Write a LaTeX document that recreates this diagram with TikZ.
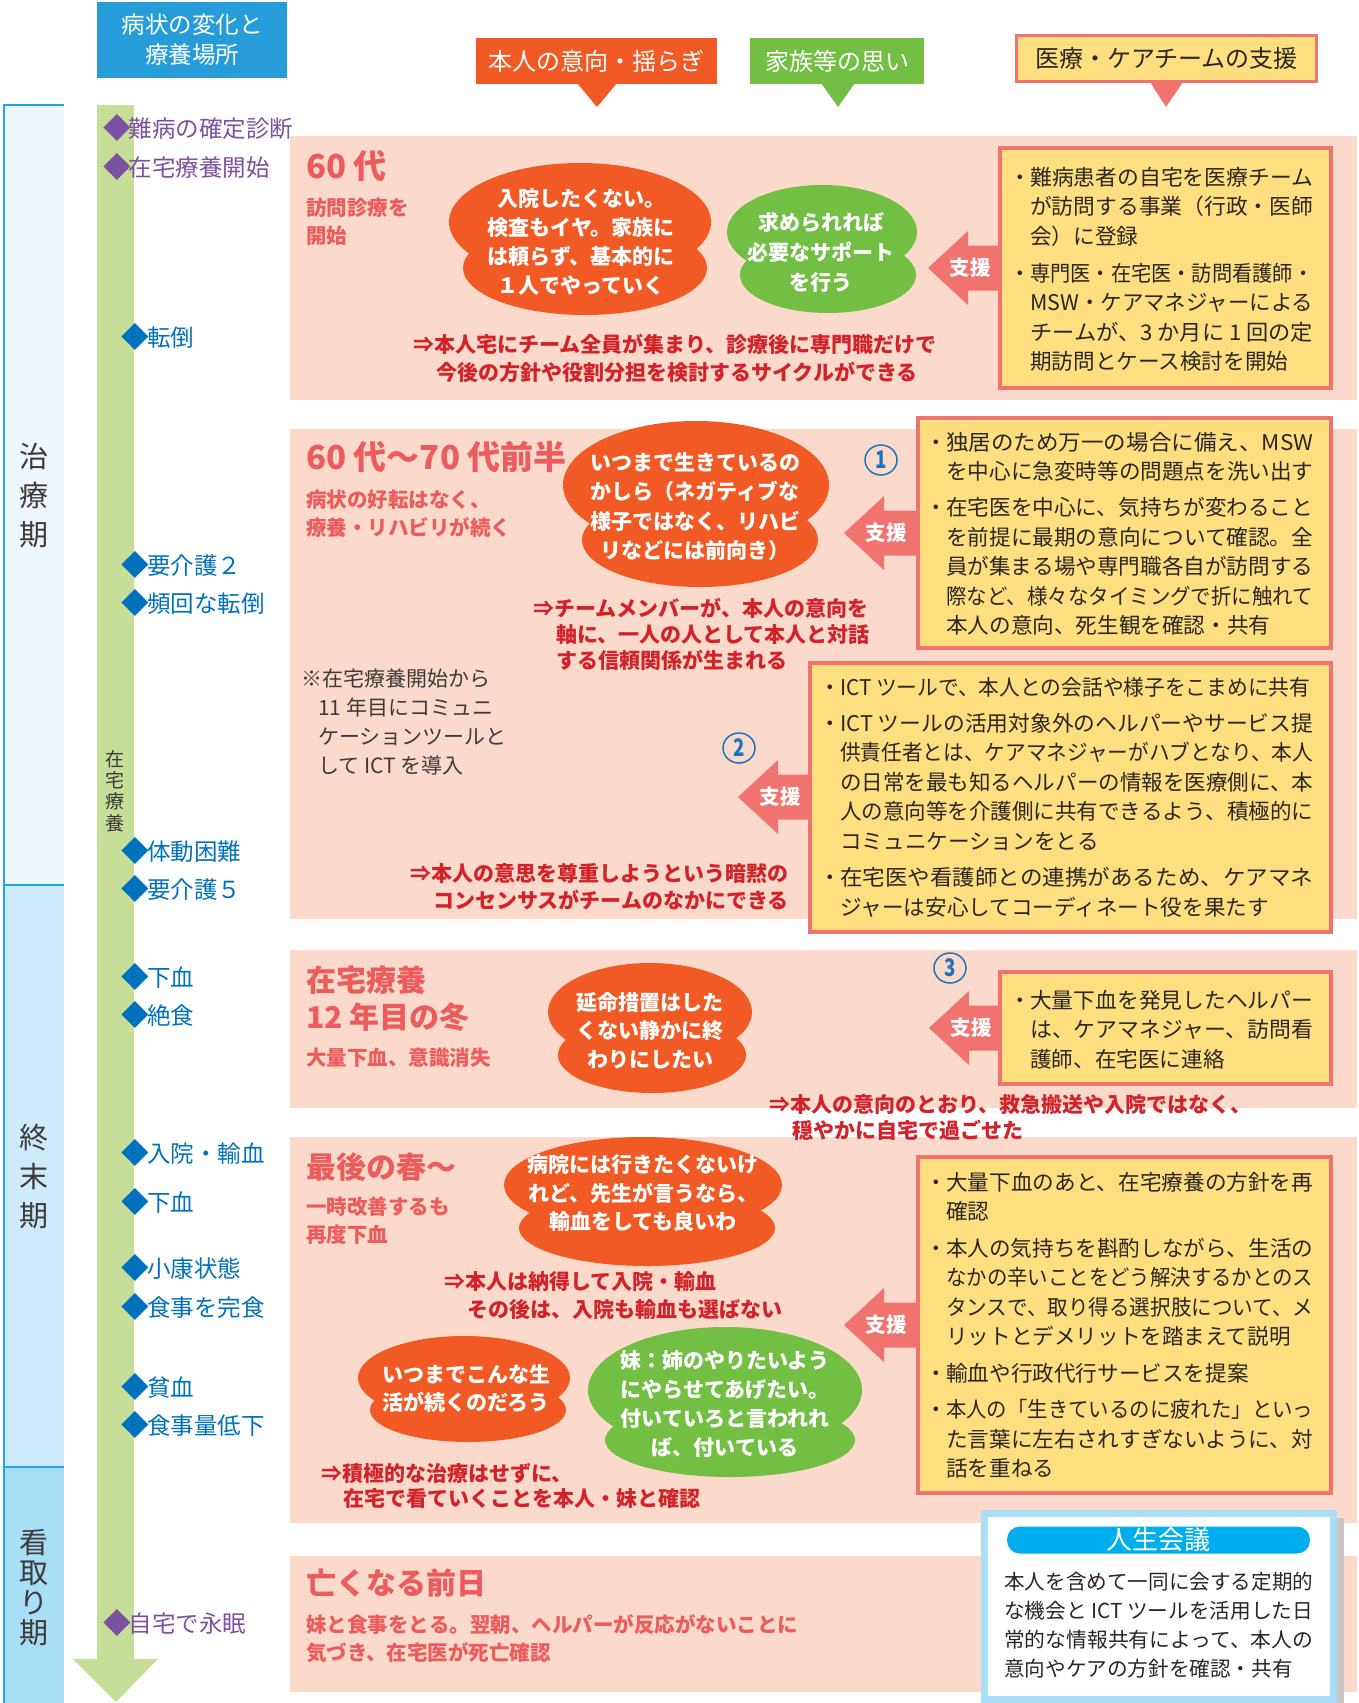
\documentclass[tikz,border=0pt]{standalone}
\usepackage{fontspec}
\usepackage{graphicx}
\setmainfont{Noto Sans CJK JP}
\definecolor{ink}{HTML}{2B2523}
\definecolor{grayink}{HTML}{3E3A39}
\definecolor{panel}{HTML}{FBDACB}
\definecolor{ybfill}{HTML}{FEDF80}
\definecolor{ybline}{HTML}{F07370}
\definecolor{obub}{HTML}{F15A24}
\definecolor{gbub}{HTML}{72BF44}
\definecolor{salmon}{HTML}{EC5C5C}
\definecolor{notered}{HTML}{D2232A}
\definecolor{hblue}{HTML}{269DD8}
\definecolor{msblue}{HTML}{0071BC}
\definecolor{mspurple}{HTML}{7B52A1}
\definecolor{gbar}{HTML}{C6DE98}
\definecolor{phA}{HTML}{EEF7FD}
\definecolor{phB}{HTML}{CDEBFA}
\definecolor{phC}{HTML}{A8DEF6}
\definecolor{phline}{HTML}{22A6E0}
\definecolor{lifeborder}{HTML}{AADEF6}
\definecolor{pill}{HTML}{00AEEF}
\definecolor{numblue}{HTML}{1C75BC}
\newcommand\J[2]{\resizebox{#1pt}{\height}{#2}}
\newcommand\bul{\makebox[13pt][l]{\makebox[6pt][c]{・}}}
\newcommand\ind{\hspace*{13pt}}
\newcommand\dm{\makebox[1em][c]{\raisebox{-0.06em}{\scalebox{1.18}{◆}}}}
\newcommand\blob[9]{%
  \fill[#1] (#2,#3) ellipse [x radius=#4pt, y radius=#5pt];
  \fill[#1] (#6,#7) ellipse [x radius=#8pt, y radius=#9pt];}
\newcommand\shien[4]{%
  \fill[ybline] (#2,#3) -- (#2+40,#3-37) -- (#2+40,#3-22.5) -- (#4,#3-22.5)
     -- (#4,#3+22.5) -- (#2+40,#3+22.5) -- (#2+40,#3+37) -- cycle;
  \node[shientext] (#1) at (#2+42,#3) {支援};}
\newcommand\cnum[4]{%
  \draw[numblue, line width=1.5pt] (#2,#3) ellipse [x radius=16pt, y radius=15pt];
  \node[numtext] (#1) at (#2,#3) {\scalebox{0.85}[1.1]{#4}};}
\begin{document}
\begin{tikzpicture}[x=1pt,y=-1pt,
  tx/.style={inner sep=0pt, anchor=west, align=left},
  body/.style={tx, text=ink, font=\fontsize{21.6}{29.5}\selectfont},
  rednote/.style={tx, text=notered, font=\bfseries\fontsize{21}{27}\selectfont},
  heading/.style={tx, text=salmon, font=\bfseries\fontsize{33}{37}\selectfont},
  subhead/.style={tx, text=salmon, font=\bfseries\fontsize{20.5}{28}\selectfont},
  bubtext/.style={inner sep=0pt, align=center, text=white, font=\bfseries\fontsize{21}{29.3}\selectfont},
  ms/.style={tx, font=\fontsize{23.5}{28}\selectfont},
  msb/.style={ms, text=msblue},
  msp/.style={ms, text=mspurple},
  phtext/.style={inner sep=0pt, align=center, text=grayink, font=\fontsize{29}{39}\selectfont},
  hdr/.style={inner sep=0pt, align=center, text=white, font=\fontsize{24}{30}\selectfont},
  ybox/.style={fill=ybfill, draw=ybline, line width=3.5pt},
  shientext/.style={inner sep=0pt, text=white, font=\bfseries\fontsize{20.5}{24}\selectfont},
  numtext/.style={inner sep=0pt, text=numblue, font=\bfseries\fontsize{22}{24}\selectfont},
  note/.style={tx, text=grayink, font=\fontsize{21}{29}\selectfont}
]
\useasboundingbox (0,0) rectangle (1359,1703);

% phase column
\fill[phA] (4,105) rectangle (64,885);
\fill[phB] (4,885) rectangle (64,1467);
\fill[phC] (4,1467) rectangle (64,1703);
\draw[phline, line width=2pt] (4,1703) -- (4,105) -- (64,105);
\draw[phline, line width=2pt] (4,885) -- (64,885);
\draw[phline, line width=2pt] (4,1467) -- (64,1467);
\node[phtext] (phase1) at (34,496) {治\\療\\期};
\node[phtext] (phase2) at (34,1177) {終\\末\\期};
\node[phtext, font=\fontsize{29}{30}\selectfont] (phase3) at (34,1588) {看\\取\\り\\期};

% green timeline bar
\fill[gbar] (97,105) rectangle (134,1659);
\fill[gbar] (73,1659) -- (158,1659) -- (116,1702) -- cycle;
\node[inner sep=0pt, align=center, text=grayink, font=\fontsize{19}{21.3}\selectfont] (zaitaku) at (115,791) {在\\宅\\療\\養};

% headers
\node[hdr, fill=hblue, minimum width=190pt, minimum height=76pt, font=\fontsize{23.5}{30}\selectfont] (hd0) at (192,40) {病状の変化と\\療養場所};
\node[hdr, fill=obub, minimum width=241pt, minimum height=46pt] (hd1) at (596.5,61) {本人の意向・揺らぎ};
\fill[obub] (577,83) -- (617,83) -- (597,107) -- cycle;
\node[hdr, fill=gbub, minimum width=174pt, minimum height=46pt] (hd2) at (837,61) {家族等の思い};
\fill[gbub] (821,83) -- (855,83) -- (838,107) -- cycle;
\fill[ybline] (1150,82) -- (1183,82) -- (1166,107) -- cycle;
\node[hdr, fill=ybfill, draw=ybline, line width=3.5pt, text=ink, minimum width=300pt, minimum height=46pt] (hd3) at (1166.5,58.5) {医療・ケアチームの支援};

% panels
\fill[panel] (290,136) rectangle (1357,400);
\fill[panel] (290,429) rectangle (1357,919);
\fill[panel] (290,950) rectangle (1357,1108);
\fill[panel] (290,1137) rectangle (1357,1523);
\fill[panel] (290,1556) rectangle (1357,1692);

% milestones
\node[msp] (m1) at (105,128) {\dm 難病の確定診断};
\node[msp] (m2) at (105,167) {\dm 在宅療養開始};
\node[msb] (m3) at (123.5,337) {\dm 転倒};
\node[msb] (m4) at (123.5,565) {\dm 要介護２};
\node[msb] (m5) at (123.5,603) {\dm 頻回な転倒};
\node[msb] (m6) at (123.5,851) {\dm 体動困難};
\node[msb] (m7) at (123.5,889) {\dm 要介護５};
\node[msb] (m8) at (123.5,977) {\dm 下血};
\node[msb] (m9) at (123.5,1015) {\dm 絶食};
\node[msb] (m10) at (123.5,1153) {\dm 入院・輸血};
\node[msb] (m11) at (123.5,1202) {\dm 下血};
\node[msb] (m12) at (123.5,1268) {\dm 小康状態};
\node[msb] (m13) at (123.5,1307) {\dm 食事を完食};
\node[msb] (m14) at (123.5,1387) {\dm 貧血};
\node[msb] (m15) at (123.5,1425) {\dm 食事量低下};
\node[msp] (m16) at (105,1623) {\dm 自宅で永眠};

% ---------- panel 1
\node[heading] (p1h) at (306,166) {60 代};
\node[subhead] (p1s) at (306,221.5) {訪問診療を\\開始};
\blob{obub}{580}{222}{131}{59}{585}{268}{122}{47}
\node[bubtext] (b1) at (581,242) {入院したくない。\\検査もイヤ。家族に\\は頼らず、基本的に\\１人でやっていく};
\blob{gbub}{822}{232}{95}{47}{828}{275}{88}{38}
\node[bubtext, font=\bfseries\fontsize{21}{30}\selectfont] (g1) at (821,252) {求められれば\\必要なサポート\\を行う};
\draw[ybox] (1000,148) rectangle (1331,388);
\shien{s1}{928}{268}{1000}
\node[body] (t1) at (1017,269.25) {\bul\J{283}{難病患者の自宅を医療チーム}\\\ind\J{283}{が訪問する事業（行政・医師}\\\ind 会）に登録\\[7.5pt]\bul\J{283}{専門医・在宅医・訪問看護師・}\\\ind\J{283}{MSW・ケアマネジャーによる}\\\ind\J{283}{チームが、3 か月に 1 回の定}\\\ind 期訪問とケース検討を開始};
\node[rednote, font=\bfseries\fontsize{21}{28}\selectfont] (r1) at (413,358) {⇒本人宅にチーム全員が集まり、診療後に専門職だけで\\\hspace*{23pt}今後の方針や役割分担を検討するサイクルができる};

% ---------- panel 2
\node[heading] (p2h) at (306,457) {60 代〜70 代前半};
\node[subhead] (p2s) at (306,514) {病状の好転はなく、\\療養・リハビリが続く};
\blob{obub}{696}{485}{133}{64}{700}{540}{118}{47}
\node[bubtext] (b2) at (695,506.5) {いつまで生きているの\\かしら（ネガティブな\\様子ではなく、リハビ\\リなどには前向き）};
\cnum{n1}{881}{460}{1}
\draw[ybox] (918,418) rectangle (1331,648);
\shien{s2}{844}{533}{918}
\node[body] (t2) at (933,533.75) {\bul\J{367}{独居のため万一の場合に備え、MSW}\\\ind を中心に急変時等の問題点を洗い出す\\[6.5pt]\bul\J{367}{在宅医を中心に、気持ちが変わること}\\\ind\J{367}{を前提に最期の意向について確認。全}\\\ind\J{367}{員が集まる場や専門職各自が訪問する}\\\ind\J{367}{際など、様々なタイミングで折に触れて}\\\ind 本人の意向、死生観を確認・共有};
\node[rednote, font=\bfseries\fontsize{21}{26}\selectfont] (r2) at (533,634) {⇒チームメンバーが、本人の意向を\\\hspace*{23pt}軸に、一人の人として本人と対話\\\hspace*{23pt}する信頼関係が生まれる};
\node[note] (ict) at (301,721.5) {※在宅療養開始から\\\hspace*{17pt}11 年目にコミュニ\\\hspace*{17pt}ケーションツールと\\\hspace*{17pt}して ICT を導入};
\cnum{n2}{739}{748}{2}
\draw[ybox] (810,663) rectangle (1331,932);
\shien{s3}{738}{797}{810}
\node[body] (t3) at (827,797) {\bul\J{470}{ICT ツールで、本人との会話や様子をこまめに共有}\\[6.5pt]\bul\J{473}{ICT ツールの活用対象外のヘルパーやサービス提}\\\ind\J{473}{供責任者とは、ケアマネジャーがハブとなり、本人}\\\ind\J{473}{の日常を最も知るヘルパーの情報を医療側に、本}\\\ind\J{473}{人の意向等を介護側に共有できるよう、積極的に}\\\ind コミュニケーションをとる\\[7pt]\bul\J{473}{在宅医や看護師との連携があるため、ケアマネ}\\\ind ジャーは安心してコーディネート役を果たす};
\node[rednote] (r3) at (410,886.5) {⇒本人の意思を尊重しようという暗黙の\\\hspace*{23pt}コンセンサスがチームのなかにできる};

% ---------- panel 3
\node[heading, font=\bfseries\fontsize{30}{37}\selectfont] (p3h) at (306,998.5) {在宅療養\\12 年目の冬};
\node[subhead] (p3s) at (306,1058) {大量下血、意識消失};
\blob{obub}{650}{1012}{102}{49}{652}{1055}{94}{38}
\node[bubtext, font=\bfseries\fontsize{21}{28.5}\selectfont] (b3) at (650,1030.5) {延命措置はした\\くない静かに終\\わりにしたい};
\cnum{n3}{950}{968}{3}
\draw[ybox] (1000,972) rectangle (1331,1084);
\shien{s4}{929}{1028}{1000}
\node[body] (t4) at (1017,1029.5) {\bul\J{283}{大量下血を発見したヘルパー}\\\ind\J{283}{は、ケアマネジャー、訪問看}\\\ind 護師、在宅医に連絡};
\node[rednote, font=\bfseries\fontsize{21}{26}\selectfont] (r4) at (769,1117) {⇒本人の意向のとおり、救急搬送や入院ではなく、\\\hspace*{23pt}穏やかに自宅で過ごせた};

% ---------- panel 4
\node[heading, font=\bfseries\fontsize{30}{37}\selectfont] (p4h) at (306,1167) {最後の春〜};
\node[subhead] (p4s) at (306,1221) {一時改善するも\\再度下血};
\blob{obub}{643}{1185}{139}{48}{647}{1228}{128}{38}
\node[bubtext, font=\bfseries\fontsize{21}{28.5}\selectfont] (b4) at (643,1193.5) {病院には行きたくないけ\\れど、先生が言うなら、\\輸血をしても良いわ};
\node[rednote, font=\bfseries\fontsize{21}{28}\selectfont] (r5) at (444,1296) {⇒本人は納得して入院・輸血\\\hspace*{23pt}その後は、入院も輸血も選ばない};
\blob{obub}{464}{1378}{106}{42}{468}{1410}{98}{32}
\node[bubtext, font=\bfseries\fontsize{21}{28}\selectfont] (b5) at (466,1389) {いつまでこんな生\\活が続くのだろう};
\blob{gbub}{725}{1390}{137}{63}{730}{1440}{125}{37}
\node[bubtext] (g2) at (725,1404) {妹：姉のやりたいよう\\にやらせてあげたい。\\付いていろと言われれ\\ば、付いている};
\node[rednote, font=\bfseries\fontsize{21}{25}\selectfont] (r6) at (321,1485.5) {⇒積極的な治療はせずに、\\\hspace*{22pt}在宅で看ていくことを本人・妹と確認};
\draw[ybox] (918,1157) rectangle (1331,1493);
\shien{s5}{844}{1325}{918}
\node[body] (t5) at (933,1325.25) {\bul\J{367}{大量下血のあと、在宅療養の方針を再}\\\ind 確認\\[7pt]\bul\J{367}{本人の気持ちを斟酌しながら、生活の}\\\ind\J{367}{なかの辛いことをどう解決するかとのス}\\\ind\J{367}{タンスで、取り得る選択肢について、メ}\\\ind リットとデメリットを踏まえて説明\\[7pt]\bul 輸血や行政代行サービスを提案\\[7pt]\bul\J{367}{本人の「生きているのに疲れた」といっ}\\\ind\J{367}{た言葉に左右されすぎないように、対}\\\ind 話を重ねる};

% ---------- panel 5
\node[heading, font=\bfseries\fontsize{30}{37}\selectfont] (p5h) at (306,1583) {亡くなる前日};
\node[subhead] (p5s) at (306,1639) {妹と食事をとる。翌朝、ヘルパーが反応がないことに\\気づき、在宅医が死亡確認};

% ---------- life meeting box
\fill[black!22] (988,1518) rectangle (1344,1703);
\draw[fill=white, draw=lifeborder, line width=7pt] (984.5,1513.5) rectangle (1333.5,1699.5);
\node[fill=pill, rounded corners=13pt, minimum width=303pt, minimum height=27pt, inner sep=0pt, text=white, font=\fontsize{26}{27}\selectfont] (jsk) at (1158.5,1540) {人生会議};
\node[tx, text=ink, font=\fontsize{20.6}{29}\selectfont] (jskt) at (1004,1625.5) {\J{309}{本人を含めて一同に会する定期的}\\\J{309}{な機会と ICT ツールを活用した日}\\\J{309}{常的な情報共有によって、本人の}\\意向やケアの方針を確認・共有};
\end{tikzpicture}
\end{document}
